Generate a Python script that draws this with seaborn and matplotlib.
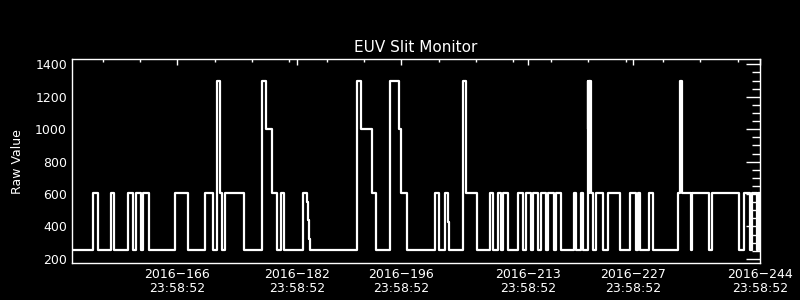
import matplotlib
matplotlib.use("Agg")
import matplotlib.pyplot as plt
import seaborn as sns
import pandas as pd
from matplotlib.ticker import MultipleLocator, FixedLocator

# ---- data (day of year 2016, raw value), step changes ----
days = [152.00, 154.72, 155.39, 157.13, 157.58, 159.40, 160.13, 160.47, 161.20, 161.41,
        162.27, 165.69, 167.49, 169.71, 170.84, 171.32, 171.72, 171.99, 172.39, 174.99,
        177.34, 177.88, 178.68, 179.35, 179.88, 180.29, 182.83, 183.36, 183.47, 183.59,
        183.82, 190.06, 190.59, 192.07, 192.66, 194.53, 195.73, 196.00, 196.75, 200.50,
        201.03, 201.84, 202.29, 202.43, 204.30, 204.65, 206.12, 207.86, 208.32, 208.93,
        209.36, 209.56, 210.27, 211.61, 212.33, 212.68, 213.31, 213.62, 214.25, 214.65,
        215.36, 215.59, 216.39, 216.66, 217.33, 219.11, 219.38, 220.01, 220.37, 220.94,
        221.00, 221.05, 221.10, 221.14, 221.20, 221.26, 221.38, 221.61, 222.05, 223.04,
        223.66, 225.27, 226.60, 227.37, 227.64, 227.94, 229.15, 229.74, 233.08, 233.30,
        233.56, 234.77, 234.86, 237.23, 237.58, 241.25, 241.87, 242.67, 242.94, 243.56,
        243.70, 243.95, 244.00]
raw_value = [255, 605, 255, 605, 255, 605, 255, 605, 255, 605,
             255, 605, 255, 605, 255, 1300, 605, 255, 605, 255,
             1300, 1000, 605, 255, 605, 255, 605, 550, 440, 320,
             255, 1300, 1000, 605, 255, 1300, 1000, 605, 255, 605,
             255, 605, 430, 255, 1300, 605, 255, 605, 255, 605,
             255, 605, 255, 605, 255, 605, 255, 605, 255, 605,
             255, 605, 255, 605, 255, 605, 255, 605, 255, 1300,
             1000, 1300, 605, 1300, 1000, 1300, 605, 255, 605, 255,
             605, 255, 605, 255, 605, 255, 605, 255, 605, 1300,
             605, 255, 605, 255, 605, 255, 605, 255, 605, 255,
             605, 255, 255]

major_ticks = [166, 182, 196, 213, 227, 244]
major_labels = ["2016\u2212166\n23:58:52", "2016\u2212182\n23:58:52", "2016\u2212196\n23:58:52",
                "2016\u2212213\n23:58:52", "2016\u2212227\n23:58:52", "2016\u2212244\n23:58:52"]
minor_ticks = [156, 161, 171, 176, 181, 186, 191, 201, 206, 211, 216, 221, 226, 231, 236, 241]

df = pd.DataFrame({"day": days, "raw": raw_value})

sns.set_style("dark")
plt.rcParams["font.family"] = ["DejaVu Sans"]

fig = plt.figure(figsize=(8, 3), dpi=100, facecolor="black")
ax = fig.add_axes([0.09, 0.1223, 0.86, 0.68])
ax.set_facecolor("black")

sns.lineplot(data=df, x="day", y="raw", ax=ax, color="white", linewidth=1.6,
             drawstyle="steps-post", estimator=None, sort=False)

ax.set_xlim(151.9, 244.0)
ax.set_ylim(173, 1431)

ax.xaxis.set_major_locator(FixedLocator(major_ticks))
ax.set_xticks(major_ticks)
ax.set_xticklabels(major_labels)
ax.xaxis.set_minor_locator(FixedLocator(minor_ticks))
ax.yaxis.set_major_locator(MultipleLocator(200))
ax.yaxis.set_minor_locator(MultipleLocator(50))

ax.tick_params(axis="both", which="both", direction="in", colors="white",
               top=True, right=True, labelsize=9, width=1, pad=3.6)
ax.tick_params(axis="x", which="major", length=4.5)
ax.tick_params(axis="x", which="minor", length=2.5)
ax.tick_params(axis="y", which="major", length=10)
ax.tick_params(axis="y", which="minor", length=5.5)
for lab in ax.get_xticklabels():
    lab.set_linespacing(1.1)

for sp in ax.spines.values():
    sp.set_visible(True)
    sp.set_color("white")
    sp.set_linewidth(1)
ax.grid(False)

ax.set_xlabel("")
ax.set_ylabel("Raw Value", color="white", fontsize=9, labelpad=8)
ax.set_title("EUV Slit Monitor", color="white", fontsize=11, pad=5)

fig.savefig("out.png", dpi=100, facecolor="black")
